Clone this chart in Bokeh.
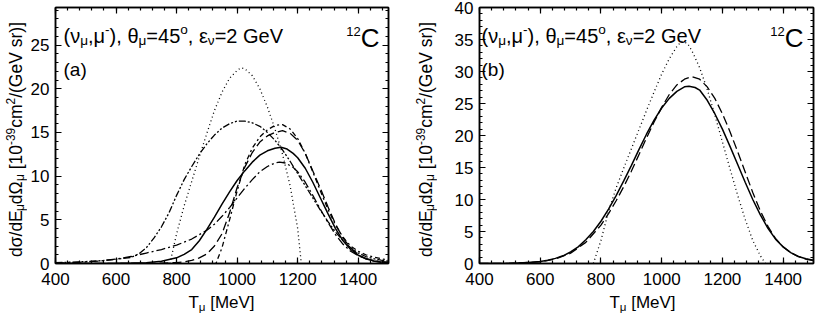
import math
from bokeh.plotting import figure
from bokeh.models import LinearAxis, Range1d, Label, FixedTicker, CustomJSTickFormatter
from bokeh.layouts import row, column
from bokeh.embed import file_html
from bokeh.resources import INLINE

FONT = "Liberation Sans"

# ---------------- data ----------------
x_major = [400, 600, 800, 1000, 1200, 1400]
x_minor = [400 + 40 * i for i in range(28)]

# panel (a)
a_dot_T = [778, 800, 825, 850, 875, 900, 925, 950, 975, 1000, 1012, 1025, 1050, 1075, 1100, 1125, 1150, 1175, 1200, 1212]
a_dot_y = [0, 3.4, 6.6, 9.4, 12.2, 14.9, 17.5, 19.6, 21.2, 22.1, 22.4, 22.3, 21.5, 20.0, 17.9, 15.4, 12.5, 8.9, 4.0, 0]

a_solid_T = [400, 500, 600, 650, 700, 750, 800, 825, 850, 875, 900, 925, 950, 975, 1000, 1025, 1050, 1075, 1100, 1125, 1145, 1165, 1185, 1200, 1225, 1250, 1275, 1300, 1325, 1350, 1375, 1400, 1425, 1450, 1475, 1500]
a_solid_y = [0.0, 0.01, 0.03, 0.05, 0.1, 0.25, 0.65, 1.05, 1.6, 2.6, 3.9, 5.3, 6.8, 8.2, 9.5, 10.6, 11.6, 12.4, 12.9, 13.2, 13.3, 13.1, 12.6, 12.1, 10.9, 9.3, 7.5, 5.7, 4.0, 2.6, 1.6, 0.95, 0.55, 0.3, 0.17, 0.1]

a_dash_T = [400, 700, 750, 800, 825, 850, 875, 900, 925, 950, 975, 1000, 1025, 1050, 1075, 1100, 1125, 1150, 1175, 1200, 1225, 1250, 1275, 1300, 1325, 1350, 1375, 1400, 1425, 1450, 1475, 1500]
a_dash_y = [0, 0.01, 0.04, 0.1, 0.2, 0.35, 0.65, 1.1, 2.0, 3.4, 5.8, 8.7, 11.0, 12.7, 13.9, 14.6, 15.0, 15.2, 14.9, 14.1, 12.6, 10.6, 8.6, 6.5, 4.5, 2.9, 1.8, 1.0, 0.55, 0.28, 0.14, 0.07]

a_dashdot_T = [400, 450, 500, 550, 600, 650, 700, 750, 800, 850, 900, 925, 950, 975, 1000, 1025, 1050, 1075, 1100, 1125, 1140, 1160, 1185, 1200, 1225, 1250, 1275, 1300, 1325, 1350, 1375, 1400, 1425, 1450, 1475, 1500]
a_dashdot_y = [0.05, 0.1, 0.18, 0.3, 0.5, 0.8, 1.2, 1.6, 2.1, 2.8, 3.8, 4.5, 5.4, 6.4, 7.5, 8.6, 9.6, 10.5, 11.1, 11.5, 11.6, 11.5, 11.0, 10.5, 9.3, 7.8, 6.2, 4.7, 3.3, 2.2, 1.4, 0.9, 0.55, 0.35, 0.22, 0.15]

a_broad_T = [400, 450, 500, 550, 600, 650, 675, 700, 725, 750, 775, 800, 825, 850, 875, 900, 925, 950, 975, 1000, 1025, 1050, 1075, 1100, 1125, 1150, 1175, 1200, 1225, 1250, 1275, 1300, 1325, 1350, 1375, 1400, 1425, 1450, 1475, 1500]
a_broad_y = [0.1, 0.15, 0.22, 0.32, 0.48, 0.7, 1.1, 1.8, 2.9, 4.2, 5.8, 7.8, 9.6, 11.1, 12.5, 13.7, 14.7, 15.5, 16.0, 16.3, 16.3, 16.1, 15.7, 15.0, 14.1, 13.0, 11.7, 10.3, 8.9, 7.5, 6.1, 4.8, 3.6, 2.6, 1.8, 1.2, 0.8, 0.55, 0.38, 0.27]

a_narrow_T = [930, 950, 975, 1000, 1025, 1050, 1075, 1100, 1125, 1150, 1175, 1200, 1225, 1250, 1275, 1300, 1325, 1350, 1375, 1400, 1425, 1450, 1475, 1500]
a_narrow_y = [0, 1.8, 5.0, 8.3, 11.3, 13.2, 14.5, 15.3, 15.8, 15.9, 15.4, 14.3, 12.6, 10.5, 8.3, 6.2, 4.4, 3.0, 2.0, 1.4, 1.0, 0.75, 0.55, 0.4]

# panel (b)
b_solid_T = [400, 450, 500, 550, 600, 625, 650, 675, 700, 725, 750, 775, 800, 825, 850, 875, 900, 925, 950, 975, 1000, 1025, 1050, 1075, 1090, 1110, 1125, 1150, 1175, 1200, 1225, 1250, 1275, 1300, 1325, 1350, 1375, 1400, 1425, 1450, 1475, 1500]
b_solid_y = [0.0, 0.01, 0.03, 0.1, 0.3, 0.5, 0.8, 1.2, 1.8, 2.6, 3.7, 5.0, 6.6, 8.5, 10.6, 12.9, 15.3, 17.8, 20.2, 22.4, 24.3, 25.8, 26.9, 27.6, 27.7, 27.5, 27.1, 25.5, 23.4, 21.0, 18.3, 15.5, 12.7, 10.0, 7.6, 5.5, 3.8, 2.6, 1.7, 1.1, 0.75, 0.5]

b_dash_T = [400, 500, 600, 650, 700, 750, 800, 825, 850, 875, 900, 925, 950, 975, 1000, 1025, 1050, 1075, 1100, 1125, 1150, 1175, 1200, 1225, 1250, 1275, 1300, 1325, 1350, 1375, 1400, 1425, 1450, 1475, 1500]
b_dash_y = [0, 0.02, 0.25, 0.7, 1.6, 3.3, 6.0, 7.8, 9.8, 12.0, 14.4, 17.0, 19.6, 22.1, 24.4, 26.4, 27.9, 28.8, 29.2, 28.8, 27.6, 25.8, 23.4, 20.6, 17.5, 14.3, 11.1, 8.2, 5.8, 3.9, 2.6, 1.7, 1.1, 0.7, 0.45]

b_dot_T = [775, 800, 825, 850, 875, 900, 925, 950, 975, 1000, 1025, 1050, 1065, 1085, 1100, 1125, 1150, 1175, 1200, 1225, 1250, 1275, 1300, 1325, 1342]
b_dot_y = [0, 3.6, 8.2, 11.8, 14.9, 17.9, 20.9, 23.9, 26.8, 29.6, 32.0, 33.9, 34.7, 34.4, 33.2, 30.6, 27.2, 23.2, 19.0, 14.8, 10.7, 6.9, 3.6, 1.2, 0]

# ---------------- text helpers ----------------
WID = {" ": 278, "(": 333, ")": 333, ",": 278, "=": 584, "-": 333,
       "[": 278, "]": 278, "/": 278, "a": 556, "b": 556, "c": 500, "d": 556, "e": 556,
       "m": 833, "o": 556, "r": 333, "s": 500, "C": 722, "E": 667, "G": 778,
       "M": 833, "T": 611, "V": 667, "\u03bd": 500, "\u03bc": 576, "\u03b8": 556,
       "\u03b5": 446, "\u03c3": 570, "\u03a9": 768}
SMALL = 0.68
BASE_FIX = 0.25   # observed downward offset of the drawn baseline, as a fraction of font size


def tw(s, size):
    return sum(WID.get(ch, 556) for ch in s) * size / 1000.0


def rich_width(pieces, size):
    return sum(tw(t, size if k == "n" else size * SMALL) for t, k in pieces)


def put(target, x, y, txt, fs, vertical=False):
    """Place one text run with its baseline at (x, y) screen px (y up, frame origin)."""
    if vertical:
        x, ang = x - BASE_FIX * fs, math.pi / 2
    else:
        y, ang = y + BASE_FIX * fs, 0.0
    target.add_layout(Label(x=x, y=y, x_units="screen", y_units="screen", text=txt,
                            text_font=FONT, text_font_size=f"{fs:.1f}px", angle=ang,
                            text_baseline="alphabetic", text_align="left",
                            text_color="black"))


def rich(target, pieces, x0, y0, size, vertical=False):
    pos = 0.0
    for txt, kind in pieces:
        if kind == "n":
            fs, shift = size, 0.0
        elif kind == "sub":
            fs, shift = size * SMALL, -0.19 * size
        else:
            fs, shift = size * SMALL, 0.40 * size
        lead = len(txt) - len(txt.lstrip(" "))
        body = txt.lstrip(" ")
        start = pos + tw(" " * lead, fs)
        if vertical:
            put(target, x0 - shift, y0 + start, body, fs, vertical=True)
        else:
            put(target, x0 + start, y0 + shift, body, fs)
        pos += tw(txt, fs)


REACTION = [("(\u03bd", "n"), ("\u03bc", "sub"), (",\u03bc", "n"), ("-", "sup"),
            ("), \u03b8", "n"), ("\u03bc", "sub"), ("=45", "n"), ("o", "sup"),
            (", \u03b5", "n"), ("\u03bd", "sub"), ("=2 GeV", "n")]
YLAB = [("d\u03c3/dE", "n"), ("\u03bc", "sub"), ("d\u03a9", "n"), ("\u03bc", "sub"),
        (" [10", "n"), ("-39", "sup"), ("cm", "n"), ("2", "sup"), ("/(GeV sr)]", "n")]
XLAB = [("T", "n"), ("\u03bc", "sub"), (" [MeV]", "n")]

TOP_H = 293      # height of plot row
FRAME_TOP = 7
FRAME_BOT = 263
FH = FRAME_BOT - FRAME_TOP
TICK_PX = "17px"
YLAB_W = 27


def label_fig(w, h):
    f = figure(width=w, height=h, x_range=Range1d(0, w), y_range=Range1d(0, h),
               output_backend="svg", toolbar_location=None, title=None,
               min_border=0, min_border_left=0, min_border_right=0,
               min_border_top=0, min_border_bottom=0, frame_align=False,
               x_axis_location=None, y_axis_location=None)
    f.xgrid.visible = False
    f.ygrid.visible = False
    f.outline_line_color = None
    f.background_fill_color = "white"
    f.border_fill_color = "white"
    return f


def make_panel(width, bl, fw, ymax, ymajor, ymin_ticks, tag, tx, tagx):
    br = width - bl - fw
    p = figure(width=width, height=TOP_H, x_range=Range1d(400, 1500), y_range=Range1d(0, ymax),
               output_backend="svg", toolbar_location=None, title=None, frame_align=False,
               min_border_left=bl, min_border_right=br, min_border_top=FRAME_TOP,
               min_border_bottom=TOP_H - FRAME_BOT)
    p.xgrid.visible = False
    p.ygrid.visible = False
    p.outline_line_color = "black"
    p.outline_line_width = 1.5
    p.background_fill_color = "white"
    p.border_fill_color = "white"

    xt = FixedTicker(ticks=x_major, minor_ticks=x_minor)
    yt = FixedTicker(ticks=ymajor, minor_ticks=ymin_ticks)

    def style(ax, labels=True):
        ax.axis_line_color = "black"
        ax.axis_line_width = 1.5
        ax.major_tick_in = 6
        ax.major_tick_out = 0
        ax.minor_tick_in = 3
        ax.minor_tick_out = 0
        ax.major_tick_line_width = 1.2
        ax.minor_tick_line_width = 1.2
        ax.major_tick_line_color = "black"
        ax.minor_tick_line_color = "black"
        if labels:
            ax.major_label_text_font = FONT
            ax.major_label_text_font_size = TICK_PX
            ax.major_label_text_color = "black"
        else:
            ax.formatter = CustomJSTickFormatter(code="return ''")
            ax.major_label_text_font_size = "0px"
            ax.major_label_standoff = 0

    p.xaxis.ticker = xt
    p.yaxis.ticker = yt
    style(p.xaxis[0])
    style(p.yaxis[0])
    p.xaxis.major_label_standoff = 9
    p.yaxis.major_label_standoff = 6

    top = LinearAxis(ticker=xt)
    style(top, labels=False)
    right = LinearAxis(ticker=yt)
    style(right, labels=False)
    p.add_layout(top, "above")
    p.add_layout(right, "right")

    # in-frame annotations (screen px relative to frame bottom-left)
    rich(p, REACTION, tx, FH - 33, 20)
    rich(p, [(tag, "n")], tx, FH - 67, 19)
    csize, ssize = 26, 13
    cw = tw("C", csize)
    sw = tw("12", ssize)
    put(p, fw - tagx - cw, FH - 37, "C", csize)
    put(p, fw - tagx - cw - sw, FH - 27, "12", ssize)
    return p


def ylabel_fig(w):
    f = label_fig(w, TOP_H)
    size = 17.5
    L = rich_width(YLAB, size)
    center = (FRAME_TOP + FRAME_BOT) / 2 + 4
    rich(f, YLAB, 19.5, TOP_H - (center + L / 2), size, vertical=True)
    return f


def xlabel_fig(w, center):
    h = 315 - TOP_H
    f = label_fig(w, h)
    size = 17
    L = rich_width(XLAB, size)
    rich(f, XLAB, center - L / 2, 9, size)
    return f


# panel (a): page x 0..410, frame 53..388
ya = ylabel_fig(YLAB_W)
pa = make_panel(410 - YLAB_W, 53 - YLAB_W, 335, 29.3, [0, 5, 10, 15, 20, 25],
                list(range(0, 30)), "(a)", 8, 11)
xa = xlabel_fig(410, 221)

# panel (b): page x 410..817, frame 479..813
yb = ylabel_fig(YLAB_W)
pb = make_panel(407 - YLAB_W, 69 - YLAB_W, 334, 40, [0, 5, 10, 15, 20, 25, 30, 35, 40],
                list(range(0, 41)), "(b)", 2, 10)
xb = xlabel_fig(407, 232)

solid = dict(line_color="black", line_width=1.5)
thin = dict(line_color="black", line_width=1.3)

pa.line(a_dot_T, a_dot_y, line_dash="1 3", **thin)
pa.line(a_broad_T, a_broad_y, line_dash="7 2 2 2 2 2", **thin)
pa.line(a_narrow_T, a_narrow_y, line_dash="2 3 5 3", **thin)
pa.line(a_dashdot_T, a_dashdot_y, line_dash="9 3 2 3", **thin)
pa.line(a_dash_T, a_dash_y, line_dash="9 4", **thin)
pa.line(a_solid_T, a_solid_y, **solid)

pb.line(b_dot_T, b_dot_y, line_dash="1 3", **thin)
pb.line(b_dash_T, b_dash_y, line_dash="9 4", **thin)
pb.line(b_solid_T, b_solid_y, **solid)

layout = row(column(row(ya, pa), xa), column(row(yb, pb), xb))
open("out.html", "w").write(file_html(layout, INLINE))
